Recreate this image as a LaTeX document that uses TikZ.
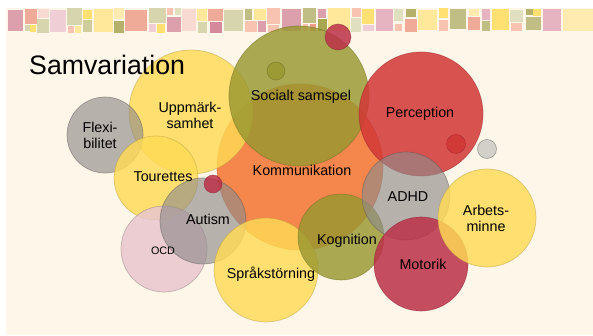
\documentclass[tikz,border=0pt]{standalone}
\usepackage{fontspec}
\setmainfont{Liberation Sans}
\definecolor{cream}{HTML}{FEF6E8}
\definecolor{bMa}{HTML}{DBA0AB}
\definecolor{bSa}{HTML}{EFAB97}
\definecolor{bPo}{HTML}{D6D5AE}
\definecolor{bYe}{HTML}{FFE070}
\definecolor{bPp}{HTML}{F9DAD3}
\definecolor{bLp}{HTML}{F0CED5}
\definecolor{bPe}{HTML}{F8C3B0}
\definecolor{bLy}{HTML}{FFE89A}
\definecolor{bOl}{HTML}{CFCD9B}
\definecolor{bOd}{HTML}{B5B06C}
\definecolor{bOm}{HTML}{C0BD85}
\definecolor{bRo}{HTML}{D48A9A}
\definecolor{bPg}{HTML}{E0DFC0}
\definecolor{bPk}{HTML}{E6B4C0}
\definecolor{bCr}{HTML}{FFEAB0}
\definecolor{bSd}{HTML}{EF9C88}
\definecolor{bOg}{HTML}{A8A650}
\definecolor{cYel}{HTML}{FFDB55}
\definecolor{cGry}{HTML}{8F8B8B}
\definecolor{cOlv}{HTML}{989830}
\definecolor{cOrg}{HTML}{F47433}
\definecolor{cRed}{HTML}{D23636}
\definecolor{cCrm}{HTML}{BC3049}
\definecolor{cPnk}{HTML}{E8C6CF}
\newcommand{\sq}[5]{\fill[#5] (#1,#2) rectangle (#3,#4);}
\begin{document}
\begin{tikzpicture}[x=1pt,y=-1pt,
  bub/.style={circle,inner sep=0pt,outer sep=0pt,minimum size=#1,line width=0.7pt,draw opacity=0.45},
  yel/.style={fill=cYel,fill opacity=0.82,draw=cYel!70!black},
  gry/.style={fill=cGry,fill opacity=0.64,draw=cGry!60!black},
  olv/.style={fill=cOlv,fill opacity=0.82,draw=cOlv!70!black},
  org/.style={fill=cOrg,fill opacity=0.85,draw=cOrg!70!black},
  red/.style={fill=cRed,fill opacity=0.85,draw=cRed!70!black},
  crm/.style={fill=cCrm,fill opacity=0.85,draw=cCrm!70!black},
  pnk/.style={fill=cPnk,fill opacity=0.85,draw=cPnk!60!black},
  lbl/.style={font=\fontsize{14.3}{16}\selectfont,align=center,text=black,inner sep=0pt},
]
\useasboundingbox (0,0) rectangle (593,336);
\fill[white] (0,0) rectangle (593,336);
\fill[cream] (6,8) rectangle (593,335);
% banner
\sq{8}{10}{23}{31}{bMa}
\sq{25}{9}{37}{24}{bSa}
\sq{25}{25}{30}{31}{bPo}
\sq{30}{25}{36}{32}{bYe}
\sq{38}{9}{49}{18}{bPp}
\sq{37}{19}{49}{33}{bPo}
\sq{50}{10}{66}{32}{bLp}
\sq{67}{8}{82}{25}{bPo}
\sq{68}{26}{74}{33}{bPe}
\sq{75}{26}{81}{33}{bLy}
\sq{83}{10}{92}{19}{bYe}
\sq{83}{20}{92}{32}{bOl}
\sq{94}{9}{113}{32}{bLy}
\sq{114}{8}{124}{19}{bCr}
\sq{114}{21}{124}{33}{bOd}
\sq{125}{10}{147}{31}{bSa}
\sq{149}{8}{166}{23}{bPo}
\sq{149}{24}{156}{32}{bLp}
\sq{157}{24}{165}{33}{bYe}
\sq{167}{8}{173}{15}{bPe}
\sq{175}{8}{181}{15}{bPg}
\sq{167}{17}{181}{32}{bMa}
\sq{182}{9}{196}{31}{bPp}
\sq{197}{9}{207}{21}{bLy}
\sq{198}{22}{207}{33}{bPo}
\sq{208}{9}{223}{21}{bSa}
\sq{210}{22}{222}{33}{bRo}
\sq{224}{10}{243}{31}{bPo}
\sq{245}{9}{252}{20}{bOm}
\sq{254}{9}{266}{20}{bLy}
\sq{245}{21}{257}{32}{bPe}
\sq{258}{21}{266}{32}{bMa}
\sq{267}{8}{280}{24}{bPe}
\sq{268}{25}{279}{32}{bPe}
\sq{282}{9}{301}{31}{bMa}
\sq{303}{8}{316}{23}{bOm}
\sq{303}{24}{308}{31}{bPe}
\sq{310}{24}{316}{31}{bSd}
\sq{318}{9}{326}{18}{bMa}
\sq{318}{19}{327}{31}{bOg}
\sq{328}{8}{350}{31}{bLy}
\sq{352}{8}{361}{17}{bPe}
\sq{351}{18}{361}{32}{bPg}
\sq{362}{9}{374}{24}{bYe}
\sq{363}{25}{374}{31}{bLp}
\sq{376}{9}{393}{31}{bPk}
\sq{394}{9}{403}{21}{bPg}
\sq{395}{24}{402}{31}{bPe}
\sq{406}{9}{416}{17}{bOd}
\sq{405}{19}{417}{32}{bSa}
\sq{418}{10}{437}{30}{bLy}
\sq{439}{8}{448}{18}{bYe}
\sq{439}{20}{448}{31}{bPe}
\sq{450}{9}{466}{29}{bOm}
\sq{469}{9}{479}{16}{bCr}
\sq{468}{17}{480}{30}{bSa}
\sq{482}{9}{490}{20}{bPk}
\sq{482}{21}{490}{31}{bOm}
\sq{492}{9}{509}{30}{bYe}
\sq{510}{10}{523}{22}{bPg}
\sq{511}{23}{522}{31}{bPe}
\sq{526}{9}{533}{15}{bOd}
\sq{533}{9}{541}{16}{bYe}
\sq{526}{17}{541}{30}{bOm}
\sq{543}{9}{561}{31}{bPk}
\sq{563}{9}{593}{31}{bCr}
% bubbles
\node[bub=166pt,org] (kom) at (300,167) {};
\node[bub=124pt,yel] (upp) at (191,112) {};
\node[bub=140pt,olv] (soc) at (299,96) {};
\node[bub=18pt,olv] (socdot) at (276,71) {};
\node[bub=76pt,gry] (flx) at (105,135) {};
\node[bub=84pt,yel] (tou) at (156,178) {};
\node[bub=86pt,pnk] (ocd) at (164,249) {};
\node[bub=86pt,gry] (aut) at (203,221) {};
\node[bub=104pt,yel] (spr) at (266,270) {};
\node[bub=86pt,olv] (kog) at (341,237) {};
\node[bub=124pt,red] (per) at (421,114) {};
\node[bub=19pt,red] (perdot) at (456,144) {};
\node[bub=88pt,gry] (adh) at (406,196) {};
\node[bub=94pt,crm] (mot) at (421,264) {};
\node[bub=98pt,yel] (arb) at (487,218) {};
\node[bub=26pt,crm] (topdot) at (338,37) {};
\node[bub=19pt,gry,fill=cGry!60] (gdot) at (487,149) {};
\node[bub=18pt,crm] (autdot) at (213,184) {};
% title
\node[anchor=base west,inner sep=0pt,font=\fontsize{26.7}{30}\selectfont] (title) at (29,75) {Samvariation};
% labels
\node[lbl] (tupp) at (190,115) {Uppmärk-\\samhet};
\node[lbl] (tflx) at (100,135) {Flexi-\\bilitet};
\node[lbl] (ttou) at (163,177) {Tourettes};
\node[lbl] (tsoc) at (301,97) {Socialt samspel};
\node[lbl] (tkom) at (302,170) {Kommunikation};
\node[lbl] (tper) at (420,114) {Perception};
\node[lbl] (tadh) at (408,197) {ADHD};
\node[lbl] (tarb) at (486,218) {Arbets-\\minne};
\node[lbl] (taut) at (208,219) {Autism};
\node[lbl,font=\fontsize{10.8}{12}\selectfont] (tocd) at (163,251) {OCD};
\node[lbl] (tspr) at (271,274) {Språkstörning};
\node[lbl] (tkog) at (347,241) {Kognition};
\node[lbl] (tmot) at (423,264) {Motorik};
\end{tikzpicture}
\end{document}
